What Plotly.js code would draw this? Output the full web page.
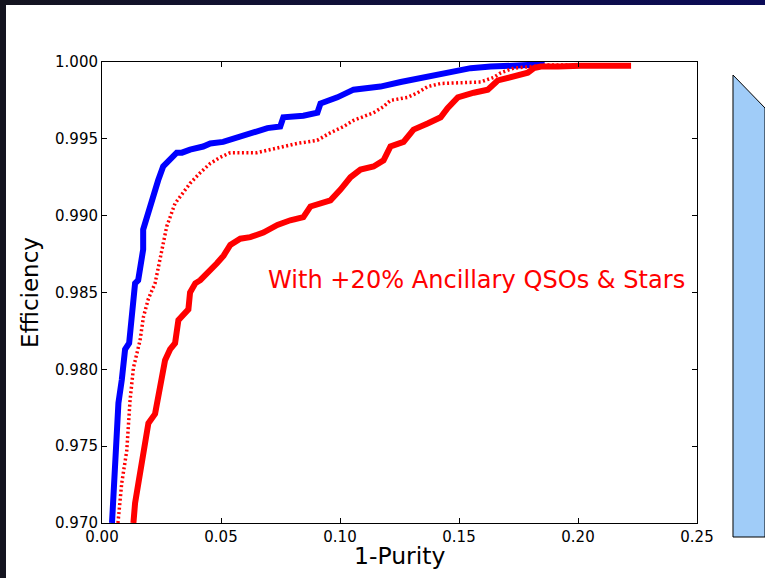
<!DOCTYPE html>
<html>
<head>
<meta charset="utf-8">
<script src="https://cdn.plot.ly/plotly-3.0.1.min.js"></script>
<style>
html, body { margin: 0; padding: 0; }
body { width: 765px; height: 578px; overflow: hidden; position: relative;
       background: linear-gradient(to right, #14141f, #0b0b58); }
#chart { position: absolute; left: 6px; top: 5px; width: 759px; height: 573px; background: #fff; }
</style>
</head>
<body>
<div id="chart"></div>
<script>
// Blue curve (baseline)
const blueX = [0.0042,0.0051,0.0062,0.0069,0.0083,0.0097,0.0114,0.0125,0.0139,0.0152,0.0167,0.0173,0.0173,0.0194,0.0215,0.0236,0.0257,0.0286,0.0314,0.0336,0.0370,0.0425,0.0455,0.0509,0.0568,0.0623,0.0695,0.0749,0.0762,0.0846,0.0905,0.0918,0.0989,0.1057,0.1170,0.1255,0.1351,0.1423,0.1465,0.1549,0.1633,0.1747,0.1789,0.1860];
const blueY = [0.9700,0.9728,0.9747,0.9778,0.9793,0.9813,0.9817,0.9834,0.9856,0.9858,0.9871,0.9878,0.9891,0.9902,0.9915,0.9923,0.9932,0.9936,0.9941,0.9941,0.9943,0.9945,0.9947,0.9948,0.9951,0.9954,0.9957,0.9958,0.9964,0.9965,0.9967,0.9973,0.9977,0.9982,0.9984,0.9987,0.9990,0.9992,0.9993,0.9996,0.9997,0.9998,0.9998,0.9998];
// Red dotted curve
const redDotX = [0.0067,0.0083,0.0104,0.0118,0.0132,0.0160,0.0174,0.0195,0.0223,0.0244,0.0272,0.0307,0.0341,0.0370,0.0413,0.0455,0.0497,0.0539,0.0651,0.0707,0.0749,0.0820,0.0904,0.0960,0.1015,0.1057,0.1141,0.1183,0.1212,0.1284,0.1326,0.1368,0.1423,0.1591,0.1646,0.1676,0.1730,0.1802,0.1873,0.1958];
const redDotY = [0.9700,0.9726,0.9747,0.9780,0.9801,0.9819,0.9834,0.9846,0.9856,0.9871,0.9893,0.9908,0.9915,0.9921,0.9928,0.9934,0.9938,0.9941,0.9941,0.9943,0.9945,0.9947,0.9949,0.9954,0.9958,0.9962,0.9967,0.9971,0.9975,0.9977,0.9980,0.9984,0.9986,0.9987,0.9990,0.9993,0.9996,0.9997,0.9998,0.9998];
// Red solid curve (with +20% ancillary)
const redX = [0.0132,0.0139,0.0153,0.0167,0.0181,0.0195,0.0223,0.0237,0.0251,0.0265,0.0286,0.0307,0.0321,0.0342,0.0363,0.0370,0.0392,0.0413,0.0434,0.0462,0.0483,0.0511,0.0539,0.0581,0.0623,0.0678,0.0737,0.0791,0.0846,0.0876,0.0918,0.0960,0.1002,0.1044,0.1086,0.1141,0.1183,0.1212,0.1267,0.1309,0.1368,0.1423,0.1452,0.1495,0.1562,0.1621,0.1663,0.1718,0.1789,0.1815,0.1844,0.1916,0.2012,0.2223];
const redY = [0.9700,0.9713,0.9726,0.9739,0.9752,0.9765,0.9771,0.9782,0.9795,0.9806,0.9813,0.9817,0.9832,0.9835,0.9839,0.9850,0.9856,0.9858,0.9861,0.9865,0.9869,0.9874,0.9881,0.9885,0.9886,0.9889,0.9894,0.9897,0.9899,0.9906,0.9908,0.9910,0.9917,0.9925,0.9930,0.9932,0.9936,0.9945,0.9948,0.9956,0.9960,0.9964,0.9970,0.9977,0.9980,0.9982,0.9988,0.9990,0.9993,0.9996,0.9997,0.9997,0.99975,0.99975];

const xTicks = [0.00,0.05,0.10,0.15,0.20,0.25];
const yTicks = [0.970,0.975,0.980,0.985,0.990,0.995,1.000];
const annotationText = "With +20% Ancillary QSOs & Stars";
const xTitle = "1-Purity";
const yTitle = "Efficiency";

const traces = [
  {x: blueX, y: blueY, mode: 'lines', line: {color: '#0000ff', width: 6}, hoverinfo: 'skip'},
  {x: redDotX, y: redDotY, mode: 'lines', line: {color: '#ff0000', width: 3.5, dash: '2px,2.5px'}, hoverinfo: 'skip'},
  {x: redX, y: redY, mode: 'lines', line: {color: '#ff0000', width: 6}, hoverinfo: 'skip'}
];

const font = "DejaVu Sans, sans-serif";
const layout = {
  width: 759, height: 573,
  margin: {l: 96, r: 68, t: 57, b: 55},
  paper_bgcolor: '#ffffff', plot_bgcolor: '#ffffff',
  showlegend: false,
  font: {family: font, color: '#000', size: 15},
  xaxis: {
    range: [0, 0.25], tickvals: xTicks, ticktext: xTicks.map(v => v.toFixed(2)),
    ticks: 'inside', ticklen: 5, tickcolor: '#000', showline: true, linecolor: '#000', linewidth: 1,
    mirror: 'ticks', showgrid: false, zeroline: false,
    tickfont: {family: font, size: 15}
  },
  yaxis: {
    range: [0.970, 1.000], tickvals: yTicks, ticktext: yTicks.map(v => v.toFixed(3)),
    ticks: 'inside', ticklen: 5, tickcolor: '#000', showline: true, linecolor: '#000', linewidth: 1,
    mirror: 'ticks', showgrid: false, zeroline: false,
    tickfont: {family: font, size: 15},
    title: {text: yTitle, font: {family: font, size: 23}, standoff: 9}
  },
  annotations: [{
    x: 0.0688, y: 0.9858, xref: 'x', yref: 'y', xanchor: 'left', yanchor: 'middle',
    text: annotationText, showarrow: false,
    font: {family: font, size: 24.1, color: '#ff0000'}
  }, {
    x: 0.5, y: -0.0716, xref: 'paper', yref: 'paper', xanchor: 'center', yanchor: 'middle',
    text: xTitle, showarrow: false,
    font: {family: font, size: 23.5, color: '#000'}
  }],
  shapes: [{
    type: 'path', xref: 'paper', yref: 'paper',
    path: 'M 1.0605 0.9718 L 1.1143 0.9002 L 1.1143 -0.0304 L 1.0605 -0.0304 Z',
    fillcolor: '#a0ccf8', line: {color: '#000', width: 1}, layer: 'above'
  }]
};

Plotly.newPlot('chart', traces, layout, {displayModeBar: false, staticPlot: true});
</script>
</body>
</html>
